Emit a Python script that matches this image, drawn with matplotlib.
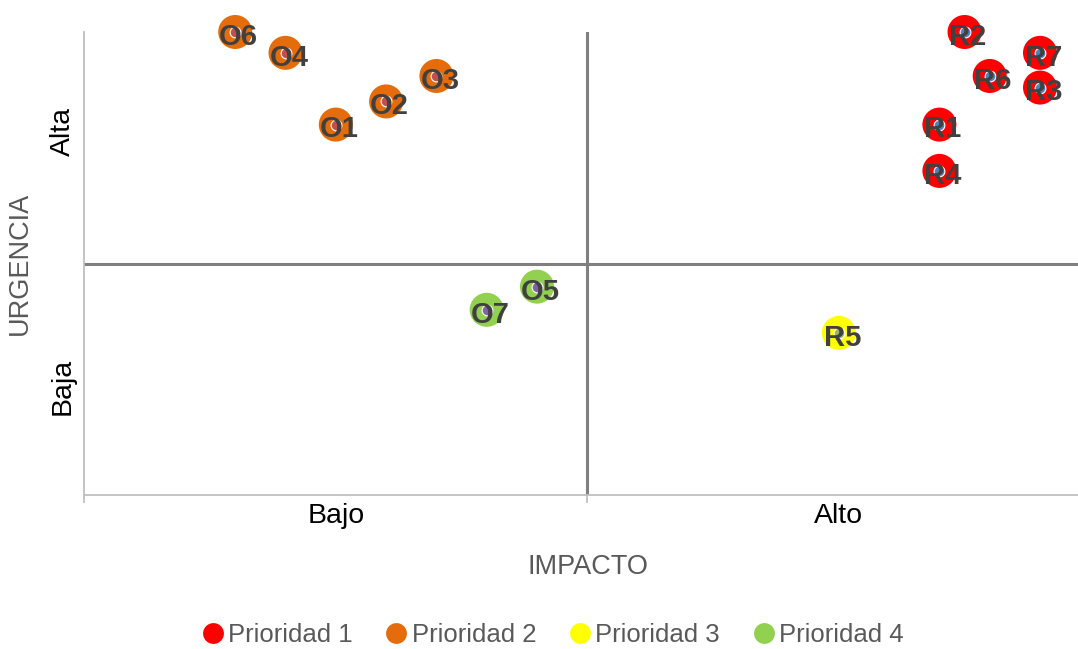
import matplotlib
matplotlib.use("Agg")
import matplotlib.pyplot as plt
from matplotlib.lines import Line2D

plt.rcParams['font.family'] = ['Liberation Sans', 'DejaVu Sans']

# Data: (impacto, urgencia) per item, grouped by priority
p1_labels = ['R1', 'R2', 'R3', 'R4', 'R6', 'R7']
p1_x = [1.7, 1.75, 1.9, 1.7, 1.8, 1.9]
p1_y = [1.6, 2.0, 1.76, 1.4, 1.81, 1.91]

p2_labels = ['O1', 'O2', 'O3', 'O4', 'O6']
p2_x = [0.5, 0.6, 0.7, 0.4, 0.3]
p2_y = [1.6, 1.7, 1.81, 1.91, 2.0]

p3_labels = ['R5']
p3_x = [1.5]
p3_y = [0.7]

p4_labels = ['O5', 'O7']
p4_x = [0.9, 0.8]
p4_y = [0.9, 0.8]

series_names = ['Prioridad 1', 'Prioridad 2', 'Prioridad 3', 'Prioridad 4']
bubble_colors = ['#FF0000', '#E46C0A', '#FFFF00', '#92D050']
inner_colors = ['#4F81BD', '#C0504D', '#9BBB59', '#8064A2']

x_ticklabels = ['Bajo', 'Alto']
y_ticklabels = ['Baja', 'Alta']

groups = [
    (p1_labels, p1_x, p1_y),
    (p2_labels, p2_x, p2_y),
    (p3_labels, p3_x, p3_y),
    (p4_labels, p4_x, p4_y),
]

fig = plt.figure(figsize=(10.78, 6.49), dpi=100)
ax = fig.add_axes([84.3 / 1078, 154 / 649, 1006 / 1078, 463 / 649])

ax.set_xlim(0, 2)
ax.set_ylim(0, 2)

# quadrant lines
ax.axhline(1, color='#808080', lw=2.2, zorder=1)
ax.axvline(1, color='#808080', lw=2.2, zorder=1)

for (labels, xs, ys), bc, ic in zip(groups, bubble_colors, inner_colors):
    ax.scatter(xs, ys, s=600, color=bc, edgecolors='none', zorder=3, clip_on=False)
    ax.scatter(xs, ys, s=60, color=ic, edgecolors='white', linewidths=0.8,
               zorder=4, clip_on=False)
    for lab, x, y in zip(labels, xs, ys):
        ax.annotate(lab, (x, y), xytext=(2.5, -3.5), textcoords='offset points',
                    ha='center', va='center', fontsize=21, fontweight='bold',
                    color='#404040', zorder=5, annotation_clip=False)

for side in ['top', 'right']:
    ax.spines[side].set_visible(False)
for side in ['left', 'bottom']:
    ax.spines[side].set_color('#BFBFBF')
    ax.spines[side].set_linewidth(1.3)

# ticks: marks at 0,1,2 on x, labels centred in each half
ax.set_xticks([0, 1, 2])
ax.set_xticklabels([])
ax.tick_params(axis='x', which='major', length=6, width=1.3, color='#BFBFBF')
ax.set_xticks([0.5, 1.5], minor=True)
ax.set_xticklabels(x_ticklabels, minor=True)
ax.tick_params(axis='x', which='minor', length=0, pad=6, labelsize=20.5,
               labelcolor='black')

ax.set_yticks([0.47, 1.57])
ax.set_yticklabels(y_ticklabels, rotation=90, va='center')
ax.tick_params(axis='y', length=0, pad=6, labelsize=20.5, labelcolor='black')

fig.text(588 / 1078, 1 - 567 / 649, 'IMPACTO', ha='center', va='center',
         fontsize=19.5, color='#595959')
fig.text(20 / 1078, 1 - 263 / 649, 'URGENCIA', ha='center', va='center',
         rotation=90, fontsize=19.5, color='#595959')

handles = [Line2D([], [], marker='o', linestyle='none', markersize=15,
                  markerfacecolor=c, markeredgecolor='none') for c in bubble_colors]
leg = fig.legend(handles, series_names, loc='center', ncol=4,
                 bbox_to_anchor=(553 / 1078, 1 - 635 / 649), frameon=False,
                 fontsize=18.5, handlelength=0.8, handletextpad=0.2,
                 columnspacing=1.3, borderpad=0)
for t in leg.get_texts():
    t.set_color('#595959')

fig.savefig('out.png', dpi=100)
